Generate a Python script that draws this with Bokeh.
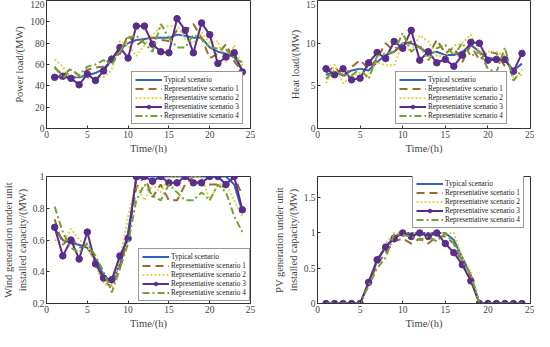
from bokeh.plotting import figure
from bokeh.layouts import gridplot
from bokeh.models import FixedTicker, Range1d
from bokeh.embed import file_html
from bokeh.resources import INLINE

hours = list(range(1, 25))

# Power load (MW)
power_typ = [48, 49, 48, 48, 50, 52, 56, 64, 74, 80, 83, 84, 85, 85, 85, 88, 87, 85, 85, 76, 72, 70, 67, 55]
power_s1 = [57, 50, 56, 49, 55, 57, 58, 68, 70, 88, 78, 83, 85, 83, 82, 92, 92, 98, 85, 66, 70, 79, 63, 53]
power_s2 = [65, 58, 46, 50, 47, 48, 48, 55, 82, 78, 68, 78, 88, 95, 96, 96, 84, 80, 90, 80, 82, 62, 78, 58]
power_s3 = [48, 49, 47, 41, 51, 45, 54, 65, 76, 66, 96, 96, 79, 72, 71, 103, 92, 71, 99, 88, 61, 67, 71, 53]
power_s4 = [58, 47, 55, 50, 58, 60, 64, 60, 72, 85, 87, 80, 72, 98, 85, 76, 76, 88, 84, 76, 75, 74, 66, 62]

# Heat load (MW)
heat_typ = [6.3, 6.6, 6.2, 6.8, 7.0, 6.8, 7.8, 8.6, 9.0, 10.0, 10.0, 9.5, 8.8, 9.0, 8.6, 8.6, 9.0, 9.8, 9.0, 8.2, 8.2, 8.0, 6.8, 7.6]
heat_s1 = [6.5, 7.3, 6.0, 7.2, 8.0, 7.0, 8.2, 10.0, 9.0, 9.8, 10.2, 9.5, 8.5, 10.4, 8.8, 9.5, 7.8, 9.8, 8.0, 9.0, 8.8, 7.3, 7.0, 7.2]
heat_s2 = [5.3, 7.5, 5.3, 6.2, 6.5, 6.2, 7.8, 7.4, 7.4, 10.0, 9.0, 10.9, 10.2, 8.5, 8.5, 9.7, 10.0, 11.0, 9.0, 9.0, 9.0, 8.5, 6.0, 6.3]
heat_s3 = [7.0, 6.3, 7.0, 5.7, 5.9, 7.7, 8.9, 8.2, 10.2, 9.4, 11.5, 8.0, 9.0, 7.7, 8.1, 7.3, 8.6, 10.1, 10.0, 8.0, 8.1, 8.1, 6.7, 8.8]
heat_s4 = [5.8, 6.8, 6.3, 6.2, 7.0, 5.8, 8.5, 8.8, 9.0, 11.2, 9.0, 9.8, 8.0, 9.4, 9.8, 8.6, 10.0, 8.5, 9.0, 7.0, 6.6, 9.5, 5.6, 6.9]

# Wind generation per unit capacity
wind_typ = [0.67, 0.60, 0.58, 0.57, 0.55, 0.48, 0.38, 0.33, 0.45, 0.65, 0.98, 1.0, 1.0, 1.0, 1.0, 1.0, 1.0, 1.0, 1.0, 1.0, 1.0, 1.0, 0.95, 0.78]
wind_s1 = [0.73, 0.57, 0.62, 0.55, 0.57, 0.45, 0.33, 0.31, 0.42, 0.62, 0.93, 1.0, 0.87, 0.95, 0.85, 0.85, 0.95, 1.0, 0.95, 0.95, 0.95, 0.93, 1.0, 0.88]
wind_s2 = [0.60, 0.58, 0.67, 0.60, 0.57, 0.44, 0.33, 0.30, 0.48, 0.75, 0.95, 0.85, 0.95, 0.90, 1.0, 1.0, 1.0, 1.0, 1.0, 0.85, 0.95, 0.95, 0.85, 0.75]
wind_s3 = [0.68, 0.50, 0.60, 0.48, 0.65, 0.45, 0.36, 0.35, 0.50, 0.61, 1.0, 1.0, 0.97, 1.0, 0.96, 0.96, 1.0, 0.96, 0.96, 1.0, 1.0, 0.95, 1.0, 0.79]
wind_s4 = [0.81, 0.65, 0.55, 0.52, 0.58, 0.50, 0.40, 0.27, 0.42, 0.58, 0.85, 0.95, 0.88, 0.85, 0.95, 0.90, 0.85, 0.85, 0.90, 0.85, 0.95, 0.90, 0.75, 0.65]

# PV generation per unit capacity
pv_typ = [0, 0, 0, 0, 0, 0.30, 0.60, 0.80, 0.95, 1.0, 1.0, 1.0, 1.0, 1.0, 1.0, 0.90, 0.65, 0.40, 0, 0, 0, 0, 0, 0]
pv_s1 = [0, 0, 0, 0, 0, 0.28, 0.55, 0.72, 0.88, 0.92, 0.85, 0.92, 0.85, 0.95, 0.95, 0.85, 0.55, 0.38, 0, 0, 0, 0, 0, 0]
pv_s2 = [0, 0, 0, 0, 0, 0.32, 0.62, 0.85, 1.0, 1.0, 1.0, 1.0, 1.0, 1.0, 1.0, 1.0, 0.65, 0.45, 0, 0, 0, 0, 0, 0]
pv_s3 = [0, 0, 0, 0, 0, 0.30, 0.62, 0.80, 0.92, 1.0, 0.95, 1.0, 0.95, 1.0, 0.85, 0.72, 0.55, 0.32, 0, 0, 0, 0, 0, 0]
pv_s4 = [0, 0, 0, 0, 0, 0.25, 0.50, 0.65, 0.98, 0.97, 0.95, 0.90, 0.95, 0.88, 1.0, 0.85, 0.60, 0.40, 0, 0, 0, 0, 0, 0]

labels = ["Typical scenario", "Representative scenario 1", "Representative scenario 2",
          "Representative scenario 3", "Representative scenario 4"]

x_ticks = [0, 5, 10, 15, 20, 25]

FONT = "Liberation Serif"
C_TYP = "#2F62C0"
C_S1 = "#9A6A2E"
C_S2 = "#E2D24A"
C_S3 = "#5A2D8C"
C_S4 = "#72A232"


def make_panel(series, ylabel, yr, yticks, overrides, legend_loc,
               bl, bt, bb, pw, ph, br):
    p = figure(width=bl + pw + br, height=bt + ph + bb, output_backend="svg",
               toolbar_location=None, x_range=Range1d(0, 25), y_range=Range1d(*yr),
               min_border_left=bl, min_border_right=br, min_border_top=bt,
               min_border_bottom=bb)
    p.xgrid.visible = False
    p.ygrid.visible = False
    p.outline_line_color = "#333333"
    p.outline_line_width = 1
    p.xaxis.ticker = FixedTicker(ticks=x_ticks)
    p.yaxis.ticker = FixedTicker(ticks=yticks)
    if overrides:
        p.yaxis.major_label_overrides = overrides
    for ax in (p.xaxis, p.yaxis):
        ax.major_tick_in = 3
        ax.major_tick_out = 0
        ax.minor_tick_in = 0
        ax.minor_tick_out = 0
        ax.axis_line_color = "#333333"
        ax.major_tick_line_color = "#333333"
        ax.major_label_text_font = FONT
        ax.major_label_text_font_size = "9.5px"
        ax.major_label_text_color = "#444444"
        ax.axis_label_text_font = FONT
        ax.axis_label_text_font_size = "10.5px"
        ax.axis_label_text_font_style = "normal"
        ax.axis_label_text_color = "#444444"
        ax.major_label_standoff = 2
        ax.axis_label_standoff = 2
    p.xaxis.axis_label = "Time/(h)"
    p.yaxis.axis_label = ylabel

    typ, s1, s2, s3, s4 = series
    p.line(hours, typ, color=C_TYP, line_width=2, legend_label=labels[0])
    p.line(hours, s1, color=C_S1, line_width=2, line_dash="8 5", legend_label=labels[1])
    p.line(hours, s2, color=C_S2, line_width=2, line_dash="2 2", legend_label=labels[2])
    p.line(hours, s3, color=C_S3, line_width=2, legend_label=labels[3])
    p.scatter(hours, s3, size=6.5, color=C_S3, legend_label=labels[3])
    p.line(hours, s4, color=C_S4, line_width=2, line_dash="7 3 2 3", legend_label=labels[4])

    lg = p.legend[0]
    lg.location = legend_loc
    lg.label_text_font = FONT
    lg.label_text_font_size = "7.3px"
    lg.label_text_color = "#222222"
    lg.label_height = 9
    lg.glyph_height = 9
    lg.glyph_width = 27
    lg.label_standoff = 2
    lg.spacing = 0
    lg.padding = 3
    lg.margin = 0
    lg.border_line_color = "#333333"
    lg.border_line_width = 1
    lg.background_fill_alpha = 1
    return p


p1 = make_panel((power_typ, power_s1, power_s2, power_s3, power_s4), "Power load/(MW)",
                (0, 120), [0, 20, 40, 60, 80, 100, 120], None, (85, 4),
                32, 0, 30, 218, 128, 17)
p2 = make_panel((heat_typ, heat_s1, heat_s2, heat_s3, heat_s4), "Heat load/(MW)",
                (0, 15), [0, 5, 10, 15], None, (78, 4),
                50, 0, 30, 213, 128, 4)
p3 = make_panel((wind_typ, wind_s1, wind_s2, wind_s3, wind_s4),
                "Wind generation under unit\ninstalled capacity/(MW)",
                (0.2, 1.0), [0.2, 0.4, 0.6, 0.8, 1.0], {1.0: "1", 1: "1"}, (92, 2),
                32, 18, 27, 218, 128, 17)
p4 = make_panel((pv_typ, pv_s1, pv_s2, pv_s3, pv_s4),
                "PV generation under unit\ninstalled capacity/(MW)",
                (0, 1.8), [0, 0.5, 1, 1.5], {0: "0", 1: "1"}, (95, 75),
                50, 18, 27, 213, 128, 4)

grid = gridplot([[p1, p2], [p3, p4]], toolbar_location=None)

open("out.html", "w").write(file_html(grid, INLINE))
